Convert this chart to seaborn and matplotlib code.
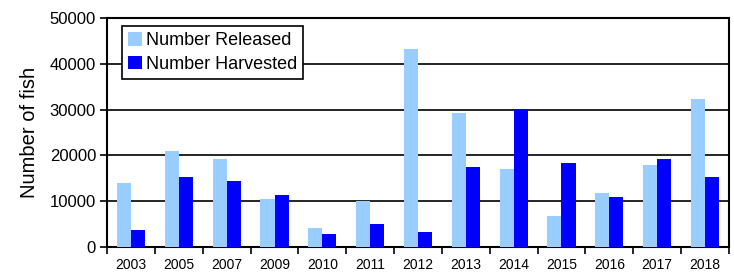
import matplotlib
matplotlib.use("Agg")
import matplotlib.pyplot as plt
import numpy as np
import pandas as pd
import seaborn as sns

years = ["2003", "2005", "2007", "2009", "2010", "2011", "2012",
         "2013", "2014", "2015", "2016", "2017", "2018"]
released = [14000, 21000, 19200, 10400, 4100, 10000, 43200,
            29200, 17000, 6700, 11700, 17900, 32300]
harvested = [3700, 15200, 14400, 11300, 2800, 5000, 3200,
             17400, 30100, 18300, 10900, 19200, 15200]
series = ["Number Released", "Number Harvested"]
colors = ["#99CCFF", "#0000FF"]

df = pd.DataFrame({
    "year": years * 2,
    "value": released + harvested,
    "series": [series[0]] * len(years) + [series[1]] * len(years),
})

sns.set_style("white")
plt.rcParams["font.family"] = ["Liberation Sans", "DejaVu Sans"]
plt.rcParams["text.color"] = "black"
plt.rcParams["axes.labelcolor"] = "black"
plt.rcParams["xtick.color"] = "black"
plt.rcParams["ytick.color"] = "black"

fig = plt.figure(figsize=(7.34, 2.75), dpi=100)
ax = fig.add_axes([0.146, 0.102, 0.847, 0.833])

sns.barplot(data=df, x="year", y="value", hue="series", palette=colors,
            width=0.59, gap=0, saturation=1, linewidth=0, ax=ax, zorder=3)

ax.set_ylim(0, 50000)
ax.set_yticks(np.arange(0, 50001, 10000))
ax.set_xlim(-0.5, len(years) - 0.5)
ax.yaxis.grid(True, color="black", linewidth=1.2, zorder=0)
ax.set_axisbelow(True)

# tick marks between categories
ax.set_xticks(np.arange(-0.5, len(years), 1), minor=True)
ax.tick_params(axis="x", which="major", length=0, labelsize=10, pad=8)
ax.tick_params(axis="x", which="minor", length=5, width=1.2, direction="out",
               bottom=True)
ax.tick_params(axis="y", length=5, width=1.2, direction="out",
               labelsize=12, left=True, pad=3)

for s in ax.spines.values():
    s.set_color("black")
    s.set_linewidth(1.5)

ax.set_xlabel("")
ax.set_ylabel("Number of fish", fontsize=14.5, labelpad=8)

leg = ax.legend(loc="upper left", bbox_to_anchor=(0.024, 0.965), fontsize=13,
                frameon=True, fancybox=False, shadow=False, handlelength=0.75,
                handleheight=0.75, handletextpad=0.2, borderpad=0.35,
                labelspacing=0.35, borderaxespad=0)
leg.get_frame().set_edgecolor("black")
leg.get_frame().set_linewidth(1.2)
leg.get_frame().set_alpha(1)

fig.savefig("out.png", dpi=100)
